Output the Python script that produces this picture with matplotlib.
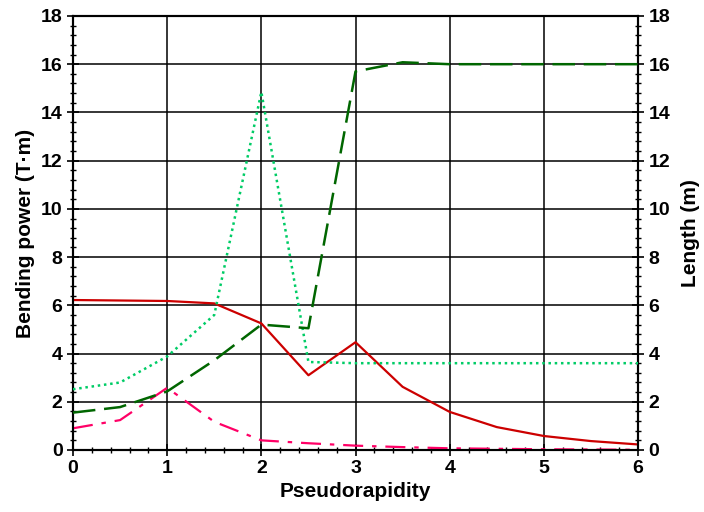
import matplotlib
matplotlib.use('Agg')
import matplotlib.pyplot as plt
from matplotlib.ticker import MultipleLocator

plt.rcParams['font.family'] = ['Liberation Sans', 'DejaVu Sans']
plt.rcParams['font.weight'] = 'bold'

eta = [0, 0.5, 1, 1.5, 2, 2.5, 3, 3.5, 4, 4.5, 5, 5.5, 6]
# bending power (T*m)
bend_red = [6.22, 6.2, 6.18, 6.08, 5.25, 3.1, 4.47, 2.62, 1.58, 0.95, 0.58, 0.37, 0.23]
bend_pink = [0.9, 1.24, 2.58, 1.17, 0.4, 0.28, 0.18, 0.12, 0.07, 0.05, 0.03, 0.02, 0.01]
# lengths (m)
len_dotted = [2.52, 2.8, 3.88, 5.6, 14.85, 3.65, 3.6, 3.6, 3.6, 3.6, 3.6, 3.6, 3.6]
len_dashed = [1.55, 1.78, 2.43, 3.72, 5.2, 5.05, 15.7, 16.08, 16.0, 16.0, 16.0, 16.0, 16.0]

fig = plt.figure(figsize=(7.04, 5.12), dpi=100)
ax = fig.add_axes([0.1037, 0.1211, 0.8026, 0.8477])
ax2 = ax.twinx()

ax.plot(eta, bend_red, color='#cc0000', lw=1.6, zorder=5)
ax.plot(eta, bend_pink, color='#ff0066', lw=1.6, dashes=(9, 4, 2, 4), zorder=5)
ax2.plot(eta, len_dotted, color='#00cc66', lw=1.8, linestyle=(0, (1, 1.5)), zorder=5)
ax2.plot(eta, len_dashed, color='#006600', lw=1.8, dashes=(9, 3.5), zorder=5)

for a in (ax, ax2):
    a.set_xlim(0, 6)
    a.set_ylim(0, 18)
    a.yaxis.set_major_locator(MultipleLocator(2))
    a.yaxis.set_minor_locator(MultipleLocator(0.4))
    a.tick_params(which='major', direction='inout', length=8, width=1.2, labelsize=14)
    a.tick_params(which='minor', direction='inout', length=5, width=1)
    for s in a.spines.values():
        s.set_linewidth(1.5)

ax.xaxis.set_major_locator(MultipleLocator(1))
ax.xaxis.set_minor_locator(MultipleLocator(0.2))
ax.grid(True, which='major', color='black', lw=1.1)
ax.set_axisbelow(True)

ax.set_xlabel('Pseudorapidity', fontsize=15, fontweight='bold', labelpad=3)
ax.set_ylabel('Bending power (T\u00b7m)', fontsize=15, fontweight='bold', labelpad=4)
ax2.set_ylabel('Length (m)', fontsize=15, fontweight='bold', labelpad=8)

fig.savefig('out.png', dpi=100)
